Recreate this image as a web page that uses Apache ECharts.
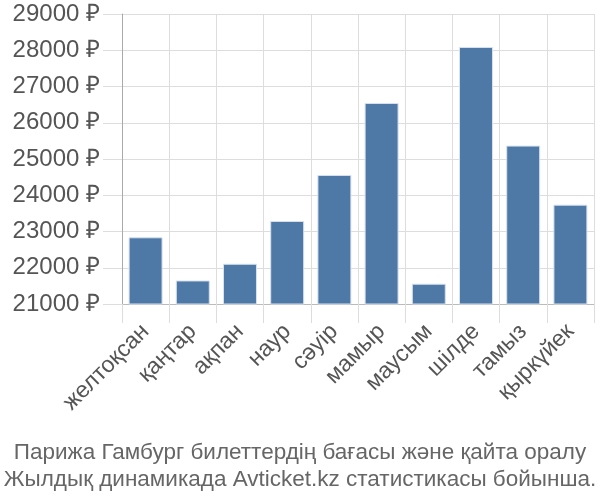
<!DOCTYPE html>
<html><head><meta charset="utf-8">
<script src="https://cdn.jsdelivr.net/npm/echarts@6/dist/echarts.min.js"></script>
<style>html,body{margin:0;padding:0;background:#fff}#c{width:600px;height:500px}</style>
</head><body><div id="c"></div>
<script>
const categories = ["желтоқсан","қаңтар","ақпан","наур","сәуір","мамыр","маусым","шілде","тамыз","қыркүйек"];
const prices = [22840,21650,22110,23290,24560,26545,21560,28090,25370,23740];
const yMin = 21000, yMax = 29000, yStep = 1000;
const titleLines = ["Парижа Гамбург билеттердің бағасы және қайта оралу","Жылдық динамикада Avticket.kz статистикасы бойынша."];

const chart = echarts.init(document.getElementById('c'), null, {renderer:'canvas'});
const font = "'Liberation Sans', Arial, sans-serif";
chart.setOption({
  animation:false,
  textStyle:{fontFamily:font},
  title:{
    text:titleLines.join('\n'),
    left:'center', top:434,
    textStyle:{fontFamily:font,fontSize:22.5,fontWeight:'normal',color:'#666',lineHeight:27}
  },
  grid:{left:122,right:6,top:14,bottom:196,containLabel:false},
  xAxis:{
    type:'category', data:categories,
    axisLine:{show:true,lineStyle:{color:'#bbb',width:1}},
    axisTick:{show:true,length:19,alignWithLabel:false,lineStyle:{color:'#ddd',width:1}},
    splitLine:{show:true,lineStyle:{color:'#ddd',width:1}},
    axisLabel:{rotate:45,margin:24,fontSize:23,color:'#555',fontFamily:font,interval:0}
  },
  yAxis:{
    type:'value', min:yMin, max:yMax, interval:yStep,
    axisLine:{show:true,lineStyle:{color:'#aaa',width:1}},
    axisTick:{show:true,length:19,lineStyle:{color:'#ddd',width:1}},
    splitLine:{show:true,lineStyle:{color:'#ddd',width:1}},
    axisLabel:{margin:22,fontSize:24,color:'#555',fontFamily:font,formatter:v=>v+' ₽'}
  },
  series:[{
    type:'bar', data:prices, barWidth:'72%',
    itemStyle:{color:'#4e79a7',borderColor:'#d8e2ee',borderWidth:1}
  }]
});
</script></body></html>
